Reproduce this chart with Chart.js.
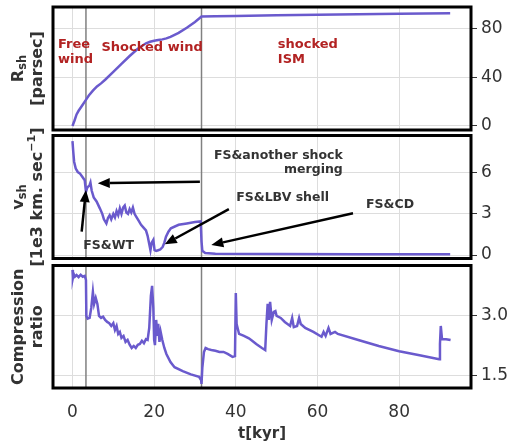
<!DOCTYPE html>
<html>
<head>
<meta charset="utf-8">
<script src="https://cdn.jsdelivr.net/npm/chart.js@4.4.0/dist/chart.umd.min.js"></script>
<style>
html, body { margin: 0; padding: 0; background: #fff; }
#wrap { position: relative; width: 512px; height: 443px; }
#wrap canvas { position: absolute; left: 0; top: 0; }
</style>
</head>
<body>
<div id="wrap">
  <canvas id="c1" width="512" height="443"></canvas>
  <canvas id="c2" width="512" height="443"></canvas>
  <canvas id="c3" width="512" height="443"></canvas>
</div>
<script>
// tick labels
const tTicks = [0, 20, 40, 60, 80];
const rTicks = [0, 40, 80];
const vTicks = [0, 3, 6];
const cTicks = [1.5, 3.0];
// phase boundaries [kyr]
const phaseLines = [3.3, 31.6];

// shock radius [parsec]
const tR  = [0, 0.5, 1, 1.5, 2, 2.5, 3, 3.5, 4, 5, 6, 7, 8, 10, 12, 14, 16, 18, 19, 20, 21, 22, 23, 24, 26, 28, 30, 31.6, 35, 40, 50, 60, 70, 80, 92.5];
const rSh = [0, 4.5, 9.5, 12.5, 15, 17.5, 20, 22.5, 25, 29, 32.5, 35, 38, 44.5, 51, 57.5, 63.5, 68, 69.2, 70, 70.6, 71.2, 72, 73.3, 76.5, 80.8, 85.5, 90, 90.2, 90.5, 91, 91.5, 91.9, 92.3, 92.7];

// shock velocity [1e3 km/s]
const tV  = [0, 0.2, 0.4, 0.8, 1.3, 1.8, 2.4, 3.0, 3.3, 3.6, 4.2, 4.4, 4.7, 5.2, 5.9, 6.7, 7.3, 7.7, 8.3, 8.7, 9.1, 9.5, 10.0, 10.4, 10.8, 11.2, 11.6, 12.0, 12.4, 12.8, 13.2, 13.6, 14.0, 14.4, 14.8, 15.2, 15.6, 16.2, 16.8, 17.4, 18.0, 18.4, 18.8, 19.1, 19.4, 19.8, 20.1, 20.5, 21.0, 21.5, 22.1, 22.5, 22.9, 23.5, 24.1, 26, 28, 30, 31.4, 31.6, 31.8, 32.5, 35, 50, 70, 92.5];
const vSh = [8.3, 7.5, 6.8, 6.3, 6.05, 5.95, 5.7, 5.45, 4.6, 4.9, 5.1, 5.27, 4.7, 4.2, 3.9, 3.4, 3.0, 2.6, 2.3, 2.7, 2.9, 2.6, 3.0, 2.75, 3.2, 2.9, 3.4, 3.0, 3.45, 3.6, 3.1, 3.0, 3.35, 3.1, 3.45, 3.0, 2.8, 2.5, 2.2, 2.0, 1.8, 1.4, 0.8, 0.35, 0.9, 1.1, 0.35, 0.3, 0.35, 0.4, 0.6, 0.9, 1.33, 1.7, 1.95, 2.2, 2.3, 2.4, 2.45, 1.0, 0.3, 0.15, 0.1, 0.07, 0.05, 0.05];

// compression ratio
const tC   = [0, 0.1, 0.3, 0.6, 1.0, 1.5, 2.0, 2.5, 3.0, 3.3, 3.4, 3.7, 4.2, 4.6, 5.0, 5.3, 5.7, 6.1, 6.5, 7.0, 7.5, 8.0, 8.5, 9.0, 9.5, 10.0, 10.4, 10.8, 11.2, 11.6, 12.0, 12.5, 13.0, 13.5, 14.0, 14.5, 15.0, 15.5, 16.0, 16.5, 17.0, 17.5, 18.0, 18.4, 18.8, 19.2, 19.5, 19.8, 20.0, 20.2, 20.5, 20.8, 21.0, 21.3, 21.6, 22.0, 22.5, 23.0, 24, 25, 27, 29, 31, 31.5, 31.6, 31.8, 32.2, 32.6, 33.2, 34, 35, 36, 37, 38, 39.2, 39.8, 40.0, 40.2, 40.8, 42, 43.2, 44, 45, 46.4, 47.2, 47.5, 47.8, 48.1, 48.4, 48.8, 49.3, 49.7, 50, 51, 52, 53.3, 53.8, 54.2, 55, 55.5, 55.9, 57, 59, 61, 61.5, 62, 62.7, 63.2, 64.3, 65, 70, 75, 80, 85, 89.8, 90.0, 90.2, 90.5, 91.5, 92.6];
const comp = [4.15, 3.95, 4.05, 3.98, 4.02, 3.97, 4.03, 3.98, 4.0, 3.9, 3.0, 2.93, 2.95, 3.2, 3.6, 3.3, 3.45, 3.3, 3.0, 2.95, 2.98, 2.9, 2.85, 2.82, 2.75, 2.82, 2.65, 2.75, 2.55, 2.6, 2.45, 2.5, 2.35, 2.4, 2.28, 2.2, 2.25, 2.2, 2.28, 2.3, 2.38, 2.32, 2.42, 2.4, 2.7, 3.5, 3.75, 3.2, 2.4, 2.27, 2.9, 2.5, 2.8, 2.35, 2.6, 2.4, 2.2, 2.05, 1.85, 1.72, 1.62, 1.54, 1.48, 1.4, 1.3, 1.7, 2.1, 2.2, 2.17, 2.15, 2.13, 2.1, 2.1, 2.05, 1.98, 2.0, 3.57, 2.8, 2.55, 2.5, 2.44, 2.38, 2.3, 2.2, 2.15, 2.8, 3.3, 2.9, 3.35, 2.9, 3.1, 3.12, 3.0, 2.95, 2.85, 2.75, 2.95, 2.72, 2.75, 2.95, 2.8, 2.7, 2.6, 2.48, 2.6, 2.5, 2.7, 2.55, 2.6, 2.55, 2.4, 2.25, 2.12, 2.02, 1.92, 2.3, 2.75, 2.42, 2.42, 2.4];

const LINE = '#6a5acd';
const RED = '#b22222';
const INK = '#333333';
const GRID = '#dddddd';
const FONT = "'DejaVu Sans', sans-serif";
Chart.defaults.font.family = FONT;

function arrow(ctx, x1, y1, x2, y2){
    const a = Math.atan2(y2 - y1, x2 - x1);
    const hl = 12, hw = 5;
    const bx = x2 - hl * Math.cos(a), by = y2 - hl * Math.sin(a);
    ctx.beginPath(); ctx.moveTo(x1, y1); ctx.lineTo(bx, by); ctx.stroke();
    ctx.beginPath(); ctx.moveTo(x2, y2);
    ctx.lineTo(bx + hw * Math.sin(a), by - hw * Math.cos(a));
    ctx.lineTo(bx - hw * Math.sin(a), by + hw * Math.cos(a));
    ctx.closePath(); ctx.fill();
}

// rotated y title made of runs: [text, size, shift]
function drawRuns(ctx, runs, cx, cy){
    ctx.save();
    ctx.translate(cx, cy);
    ctx.rotate(-Math.PI / 2);
    ctx.textBaseline = 'middle';
    ctx.textAlign = 'left';
    let w = 0;
    runs.forEach(r => { ctx.font = 'bold ' + r[1] + 'px ' + FONT; w += ctx.measureText(r[0]).width; });
    let x = -w / 2;
    runs.forEach(r => {
        ctx.font = 'bold ' + r[1] + 'px ' + FONT;
        ctx.fillText(r[0], x, r[2] || 0);
        x += ctx.measureText(r[0]).width;
    });
    ctx.restore();
}

const deco = {
    id: 'deco',
    beforeDatasetsDraw(chart){
        const {ctx, chartArea: ca, scales} = chart;
        ctx.save();
        ctx.strokeStyle = '#808080';
        ctx.lineWidth = 1.5;
        phaseLines.forEach(t => {
            const x = scales.x.getPixelForValue(t);
            ctx.beginPath(); ctx.moveTo(x, ca.top); ctx.lineTo(x, ca.bottom); ctx.stroke();
        });
        ctx.restore();
    },
    afterDraw(chart, args, o){
        const {ctx, chartArea: ca, scales} = chart;
        ctx.save();
        ctx.strokeStyle = '#000';
        ctx.lineWidth = 3;
        ctx.strokeRect(ca.left, ca.top, ca.right - ca.left, ca.bottom - ca.top);
        ctx.textBaseline = 'middle';
        (o.texts || []).forEach(s => {
            ctx.font = 'bold ' + s.size + 'px ' + FONT;
            ctx.fillStyle = s.color;
            ctx.textAlign = s.align || 'left';
            ctx.fillText(s.text, scales.x.getPixelForValue(s.x), scales.y.getPixelForValue(s.y));
        });
        ctx.strokeStyle = '#000';
        ctx.fillStyle = '#000';
        ctx.lineWidth = 2.5;
        (o.arrows || []).forEach(a => {
            arrow(ctx, scales.x.getPixelForValue(a[0]), scales.y.getPixelForValue(a[1]),
                       scales.x.getPixelForValue(a[2]), scales.y.getPixelForValue(a[3]));
        });
        ctx.fillStyle = INK;
        const cy = (ca.top + ca.bottom) / 2;
        (o.title || []).forEach((runs, i) => drawRuns(ctx, runs, ca.left - 34 + i * 19, cy));
        ctx.restore();
    }
};

function makePanel(id, xs, ys, yMin, yMax, yTicks, top, bottom, deco_opts, withX){
    const fmt = yTicks === cTicks ? (v => v.toFixed(1)) : (v => String(v));
    const xScale = {
        type: 'linear', min: -4.77, max: 97.6,
        afterBuildTicks: s => { s.ticks = tTicks.map(v => ({value: v})); },
        grid: { color: GRID, drawTicks: false },
        border: { display: false },
        ticks: { display: withX, color: INK, padding: 14, font: { size: 17 } },
        title: { display: withX, text: 't[kyr]', color: INK, font: { size: 15, weight: 'bold' }, padding: { top: 0, bottom: 0 } },
        afterFit: s => { s.height = withX ? 443 - bottom : 0; s.paddingLeft = 0; s.paddingRight = 0; }
    };
    return new Chart(document.getElementById(id), {
        type: 'line',
        data: { datasets: [{ data: xs.map((x, i) => ({x: x, y: ys[i]})), borderColor: LINE, borderWidth: 2.5, pointRadius: 0, tension: 0, fill: false }] },
        options: {
            responsive: false, animation: false, devicePixelRatio: 1,
            layout: { padding: { left: 53, right: 0, top: top, bottom: withX ? 0 : 443 - bottom } },
            plugins: { legend: { display: false }, tooltip: { enabled: false }, deco: deco_opts },
            scales: {
                x: xScale,
                y: {
                    position: 'right', min: yMin, max: yMax,
                    afterBuildTicks: s => { s.ticks = yTicks.map(v => ({value: v})); },
                    grid: { color: GRID, tickColor: INK, tickLength: 6 },
                    border: { display: false },
                    ticks: { color: INK, padding: 4, font: { size: 17 }, callback: fmt },
                    afterFit: s => { s.width = 41; s.paddingTop = 0; s.paddingBottom = 0; }
                }
            }
        },
        plugins: [deco]
    });
}

makePanel('c1', tR, rSh, -3.3, 97.8, rTicks, 7, 130, {
    texts: [
        { text: 'Free', x: -3.55, y: 66.6, size: 13, color: RED },
        { text: 'wind', x: -3.55, y: 54.3, size: 13, color: RED },
        { text: 'Shocked wind', x: 7.1, y: 64.1, size: 13, color: RED },
        { text: 'shocked', x: 50.3, y: 66.6, size: 13, color: RED },
        { text: 'ISM', x: 50.3, y: 54.3, size: 13, color: RED }
    ],
    title: [[['R', 16], ['sh', 11.5, 4]], [['[parsec]', 16]]]
}, false);

makePanel('c2', tV, vSh, -0.255, 8.71, vTicks, 135.5, 258.5, {
    texts: [
        { text: 'FS&another shock', x: 66.2, y: 7.22, size: 12.5, color: INK, align: 'right' },
        { text: 'merging', x: 66.2, y: 6.2, size: 12.5, color: INK, align: 'right' },
        { text: 'FS&LBV shell', x: 40.1, y: 4.15, size: 12.5, color: INK },
        { text: 'FS&CD', x: 71.9, y: 3.64, size: 12.5, color: INK },
        { text: 'FS&WT', x: 2.64, y: 0.66, size: 12.5, color: INK }
    ],
    arrows: [
        [31.2, 5.34, 6.2, 5.23],
        [38.3, 3.35, 22.6, 0.78],
        [68.7, 3.04, 34.0, 0.73],
        [2.25, 1.70, 3.3, 4.74]
    ],
    title: [[['v', 16], ['sh', 11.5, 4]], [['[1e3 km. sec', 16], ['\u22121', 11, -6], [']', 16]]]
}, false);

makePanel('c3', tC, comp, 1.2, 4.26, cTicks, 265.5, 388, {
    title: [[['Compression', 16]], [['ratio', 16]]]
}, true);
</script>
</body>
</html>
